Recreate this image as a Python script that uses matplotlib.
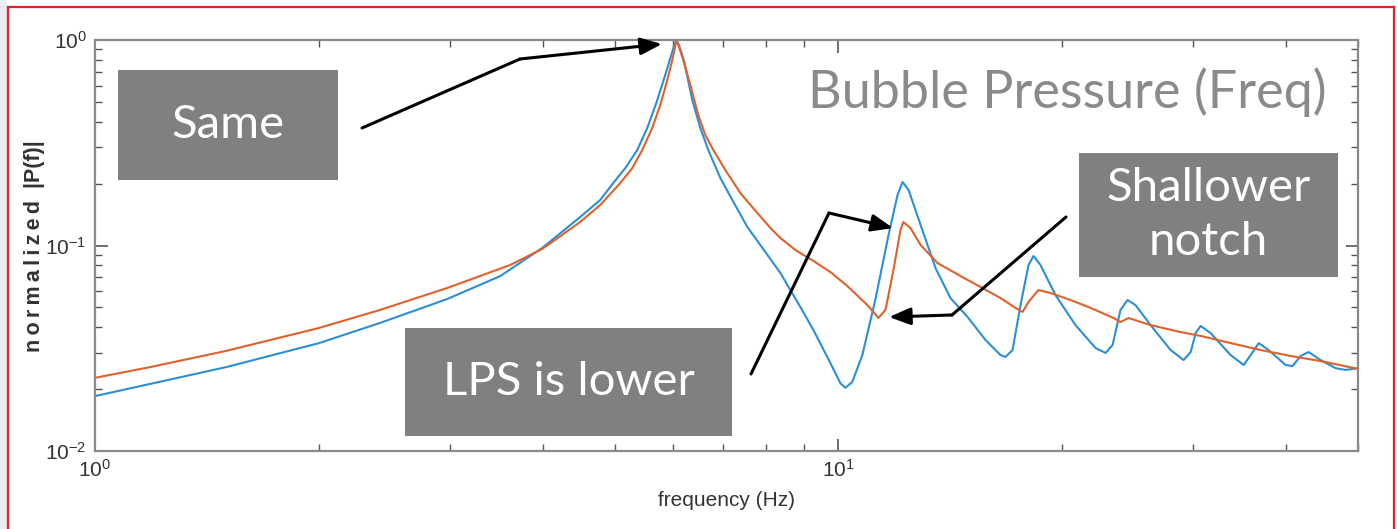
import matplotlib
matplotlib.use("Agg")
import matplotlib.pyplot as plt
from matplotlib.patches import Rectangle
from matplotlib.lines import Line2D
from matplotlib.ticker import NullFormatter

# blue curve: frequency (Hz) and normalized |P(f)|
blue_freq = [1.00, 1.186, 1.501, 2.002, 2.418, 2.977, 3.509, 3.996, 4.494, 4.782,
             4.979, 5.169, 5.363, 5.532, 5.689, 5.832, 5.942, 6.016, 6.053, 6.109,
             6.204, 6.360, 6.520, 6.683, 6.937, 7.200, 7.543, 7.975, 8.355, 8.889,
             9.255, 9.755, 10.06, 10.22, 10.44, 10.77, 11.21, 11.68, 12.01, 12.20,
             12.43, 12.90, 13.51, 14.15, 14.92, 15.77, 16.52, 16.78, 17.15, 17.58,
             18.02, 18.30, 18.70, 19.59, 20.84, 22.18, 22.88, 23.38, 23.96, 24.49,
             25.10, 26.30, 27.98, 29.13, 29.78, 30.24, 30.71, 31.67, 33.70, 35.09,
             35.86, 36.76, 37.91, 39.96, 40.83, 41.86, 42.91, 44.53, 46.66, 48.13,
             50.0]
blue_mag = [0.0185, 0.0212, 0.0256, 0.0335, 0.0420, 0.0549, 0.0710, 0.0973, 0.1376, 0.1665,
            0.2014, 0.2383, 0.2915, 0.373, 0.4936, 0.653, 0.817, 0.946, 1.0, 0.935,
            0.782, 0.5105, 0.373, 0.2915, 0.2131, 0.1665, 0.1230, 0.0930, 0.0735, 0.0502,
            0.0388, 0.0268, 0.0214, 0.0203, 0.0217, 0.0293, 0.0543, 0.1125, 0.1761, 0.2037,
            0.1862, 0.1258, 0.0777, 0.0555, 0.0449, 0.0347, 0.0293, 0.0287, 0.0310, 0.0513,
            0.0804, 0.0889, 0.0804, 0.0574, 0.0410, 0.0317, 0.0300, 0.0328, 0.0486, 0.0543,
            0.0513, 0.0410, 0.0310, 0.0277, 0.0303, 0.0375, 0.0406, 0.0375, 0.0293, 0.0262,
            0.0293, 0.0335, 0.0310, 0.0262, 0.0259, 0.0290, 0.0303, 0.0277, 0.0253, 0.0248,
            0.0253]

# orange curve
orange_freq = [1.00, 1.186, 1.501, 2.002, 2.418, 2.977, 3.619, 3.996, 4.494, 4.782,
               5.089, 5.282, 5.447, 5.618, 5.760, 5.887, 5.978, 6.034, 6.053, 6.091,
               6.186, 6.321, 6.479, 6.622, 6.789, 7.046, 7.381, 7.780, 8.101, 8.355,
               8.751, 9.255, 9.755, 10.28, 10.94, 11.32, 11.57, 11.86, 12.12, 12.23,
               12.50, 12.90, 13.59, 14.60, 15.53, 16.52, 17.31, 17.69, 18.02, 18.58,
               19.29, 20.52, 21.84, 23.45, 23.96, 24.56, 26.30, 28.86, 30.71, 33.70,
               36.98, 40.58, 44.53, 50.0]
orange_mag = [0.0227, 0.0256, 0.0307, 0.0397, 0.0486, 0.0621, 0.0804, 0.0962, 0.1301, 0.1574,
              0.2014, 0.2383, 0.2915, 0.373, 0.4827, 0.6387, 0.799, 0.935, 1.0, 0.946,
              0.799, 0.604, 0.4315, 0.345, 0.2915, 0.2330, 0.1800, 0.1439, 0.1217, 0.1088,
              0.0951, 0.0841, 0.0743, 0.0635, 0.0513, 0.0444, 0.0486, 0.0760, 0.1189, 0.1301,
              0.1217, 0.1006, 0.0822, 0.0710, 0.0628, 0.0555, 0.0497, 0.0475, 0.0531, 0.0607,
              0.0587, 0.0543, 0.0497, 0.0444, 0.0424, 0.0444, 0.0410, 0.0379, 0.0363, 0.0335,
              0.0310, 0.0290, 0.0274, 0.0251]

W, H = 1397, 529


def fp(x, y):
    # pixel position measured from top-left -> figure fraction
    return x / W, 1 - y / H


plt.rcParams["font.family"] = ["Liberation Sans", "DejaVu Sans"]
plt.rcParams["mathtext.default"] = "regular"
plt.rcParams["axes.unicode_minus"] = False

fig = plt.figure(figsize=(W / 100, H / 100), dpi=100)

# light strip on the far left and the red frame
fig.add_artist(Rectangle((0, 0), 7 / W, 1, transform=fig.transFigure,
                         facecolor="#ececf2", edgecolor="none"))
red = "#e5222b"
for xs, ys in [([8, 8], [7, 540]), ([8, 1394], [7, 7]), ([1394, 1394], [7, 540])]:
    fig.add_artist(Line2D([x / W for x in xs], [1 - y / H for y in ys],
                          transform=fig.transFigure, color=red, lw=1.6))

ax = fig.add_axes([95 / W, 1 - 451 / H, 1263 / W, 411 / H])
ax.loglog(blue_freq, blue_mag, color="#2b8fd6", lw=1.5)
ax.loglog(orange_freq, orange_mag, color="#e1612a", lw=1.5)
ax.set_xlim(1, 50)
ax.set_ylim(0.01, 1)

for s in ax.spines.values():
    s.set_color("#8a8a8a")
    s.set_linewidth(1.6)
ax.tick_params(which="both", direction="in", top=True, right=True,
               colors="#555555", labelcolor="#333333", labelsize=15)
ax.tick_params(which="major", length=9, width=1.2, pad=6)
ax.tick_params(which="minor", length=5, width=1.0)
ax.xaxis.set_minor_formatter(NullFormatter())
ax.yaxis.set_minor_formatter(NullFormatter())

fig.text(*fp(726, 500), "frequency (Hz)", ha="center", va="center",
         fontsize=15, color="#333333")
fig.text(*fp(35, 246), "n\u2009o\u2009r\u2009m\u2009a\u2009l\u2009i\u2009z\u2009e\u2009d  |P(f)|",
         ha="center", va="center", rotation=90, fontsize=15.5,
         fontweight="bold", color="#333333")

# title-like label inside the plot
fig.text(*fp(1067, 92), "Bubble Pressure (Freq)", ha="center", va="center",
         fontsize=37.5, color="#8a8a8a", family="Lato")

# grey callout boxes
box_col = "#808080"
boxes = [
    (118, 70, 338, 180, "Same"),
    (405, 328, 732, 436, "LPS is lower"),
    (1079, 153, 1338, 277, "Shallower\nnotch"),
]
for x0, y0, x1, y1, label in boxes:
    fig.add_artist(Rectangle(fp(x0, y1), (x1 - x0) / W, (y1 - y0) / H,
                             transform=fig.transFigure, facecolor=box_col,
                             edgecolor="none", zorder=5))
    fig.text(*fp((x0 + x1) / 2, (y0 + y1) / 2), label, ha="center", va="center",
             fontsize=34, color="white", family="Lato", linespacing=1.33, zorder=6)

# arrows: start -> corner -> tip
arrows = [
    ((362, 128), (520, 59), (662, 44)),
    ((751, 374), (829, 213), (893, 228)),
    ((1066, 217), (952, 315), (889, 317)),
]
for start, corner, tip in arrows:
    fig.add_artist(Line2D([start[0] / W, corner[0] / W],
                          [1 - start[1] / H, 1 - corner[1] / H],
                          transform=fig.transFigure, color="black", lw=2.2,
                          solid_capstyle="round", zorder=7))
    ax.annotate("", xy=fp(*tip), xycoords="figure fraction",
                xytext=fp(*corner), textcoords="figure fraction",
                arrowprops=dict(arrowstyle="-|>,head_length=1.0,head_width=0.4",
                                mutation_scale=13, color="black", lw=2.2,
                                shrinkA=0, shrinkB=0), zorder=7)

fig.savefig("out.png", dpi=100)
